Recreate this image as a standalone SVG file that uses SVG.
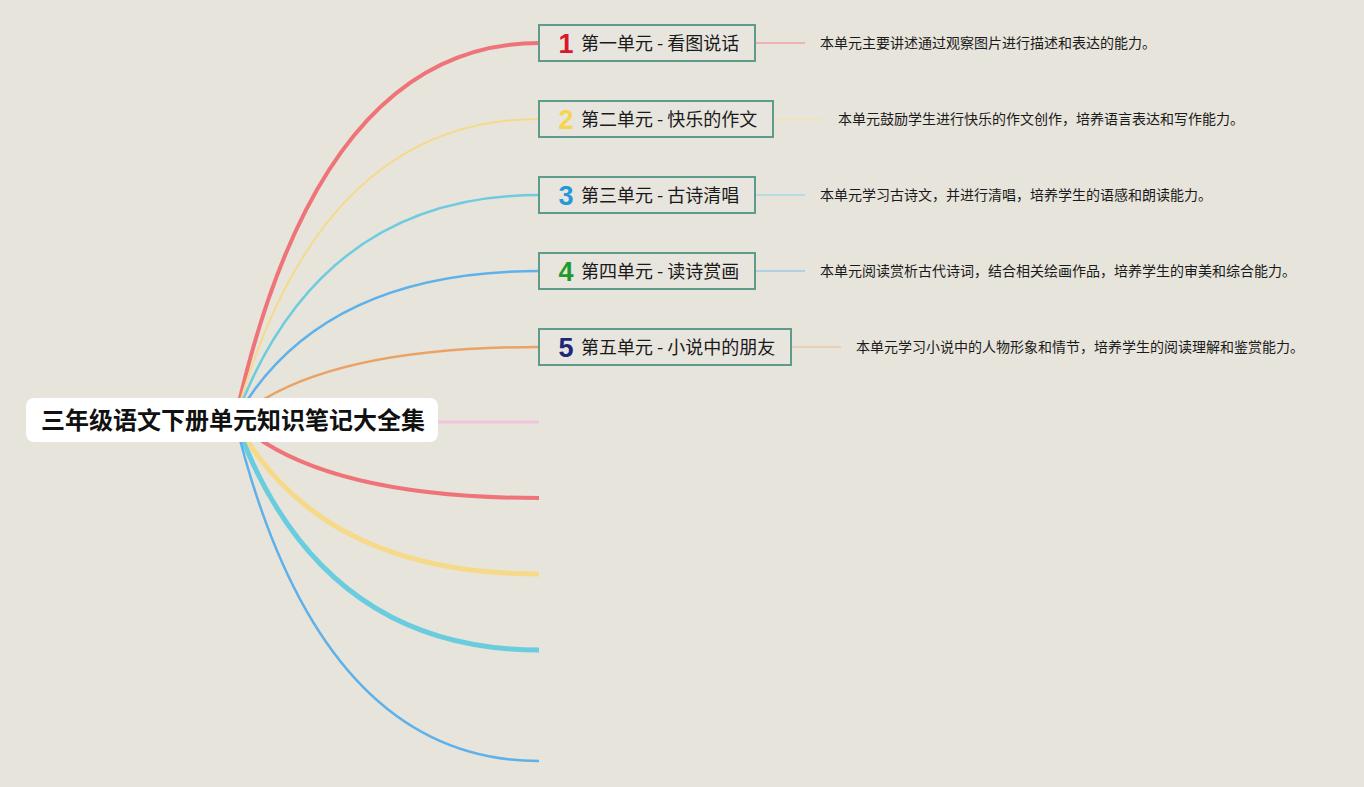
<svg xmlns="http://www.w3.org/2000/svg" width="1364" height="787" viewBox="0 0 1364 787">
<style>
.bg{fill:#E7E4DC}
.br{fill:none;stroke-linecap:butt}
.node rect{fill:#E8E5DE;stroke:#5E9B8A;stroke-width:2}
.num{font-family:"Liberation Sans","Noto Sans",sans-serif;font-weight:bold;font-size:27px}
.lbl{font-family:"Noto Sans CJK SC","Noto Sans",sans-serif;font-size:18px;fill:#1a1a1a}
.desc{font-family:"Noto Sans CJK SC","Noto Sans",sans-serif;font-size:14px;fill:#1a1a1a}
.title{font-family:"Noto Sans CJK SC","Noto Sans",sans-serif;font-size:24px;font-weight:bold;fill:#111}
.lk{stroke-width:1.5;fill:none}
</style>
<rect class="bg" x="0" y="0" width="1364" height="787"/>
<g id="connectors">
<path class="br" d="M235,420 Q318,43 539,43" stroke="#EF7479" stroke-width="4"/>
<path class="br" d="M235,420 Q318,119 539,119" stroke="#F5DA8C" stroke-width="2"/>
<path class="br" d="M235,420 Q318,195 539,195" stroke="#6FCCDF" stroke-width="2.5"/>
<path class="br" d="M235,420 Q318,271 539,271" stroke="#5FB1EA" stroke-width="2.5"/>
<path class="br" d="M235,420 Q318,347 539,347" stroke="#E9A367" stroke-width="2.5"/>
<path class="br" d="M235,422 L539,422" stroke="#F2C3DD" stroke-width="3"/>
<path class="br" d="M235,420 Q318,498 539,498" stroke="#EF7479" stroke-width="4"/>
<path class="br" d="M235,420 Q318,574 539,574" stroke="#F7D98A" stroke-width="5"/>
<path class="br" d="M235,420 Q318,650 539,650" stroke="#6ACCDF" stroke-width="5"/>
<path class="br" d="M235,420 Q318,761 539,761" stroke="#5FB1EA" stroke-width="2.5"/>
<line class="lk" x1="756" y1="43" x2="805" y2="43" stroke="#ECA3A3"/>
<line class="lk" x1="774" y1="119" x2="823" y2="119" stroke="#F3E2B2"/>
<line class="lk" x1="756" y1="195" x2="805" y2="195" stroke="#A8D9E3"/>
<line class="lk" x1="756" y1="271" x2="805" y2="271" stroke="#9FC9E8"/>
<line class="lk" x1="792" y1="347" x2="841" y2="347" stroke="#EFC8A7"/>
</g>
<g id="root">
<rect x="26" y="398" width="412" height="44" rx="8" fill="#FFFFFF"/>
<text class="title" x="41" y="429">三年级语文下册单元知识笔记大全集</text>
</g>
<g id="node1" class="node">
<rect x="539" y="25" width="216" height="36"/>
<text class="num" x="566" y="53" text-anchor="middle" fill="#D7192F">1</text>
<text class="lbl" x="581" y="49.5">第一单元 - 看图说话</text>
</g>
<g id="node2" class="node">
<rect x="539" y="101" width="234" height="36"/>
<text class="num" x="566" y="129" text-anchor="middle" fill="#F6D54B">2</text>
<text class="lbl" x="581" y="125.5">第二单元 - 快乐的作文</text>
</g>
<g id="node3" class="node">
<rect x="539" y="177" width="216" height="36"/>
<text class="num" x="566" y="205" text-anchor="middle" fill="#2399DB">3</text>
<text class="lbl" x="581" y="201.5">第三单元 - 古诗清唱</text>
</g>
<g id="node4" class="node">
<rect x="539" y="253" width="216" height="36"/>
<text class="num" x="566" y="281" text-anchor="middle" fill="#1F9B2B">4</text>
<text class="lbl" x="581" y="277.5">第四单元 - 读诗赏画</text>
</g>
<g id="node5" class="node">
<rect x="539" y="329" width="252" height="36"/>
<text class="num" x="566" y="357" text-anchor="middle" fill="#1C2878">5</text>
<text class="lbl" x="581" y="353.5">第五单元 - 小说中的朋友</text>
</g>
<g id="desc1"><text class="desc" x="820" y="48">本单元主要讲述通过观察图片进行描述和表达的能力。</text></g>
<g id="desc2"><text class="desc" x="838" y="124">本单元鼓励学生进行快乐的作文创作，培养语言表达和写作能力。</text></g>
<g id="desc3"><text class="desc" x="820" y="200">本单元学习古诗文，并进行清唱，培养学生的语感和朗读能力。</text></g>
<g id="desc4"><text class="desc" x="820" y="276">本单元阅读赏析古代诗词，结合相关绘画作品，培养学生的审美和综合能力。</text></g>
<g id="desc5"><text class="desc" x="856" y="352">本单元学习小说中的人物形象和情节，培养学生的阅读理解和鉴赏能力。</text></g>
</svg>
